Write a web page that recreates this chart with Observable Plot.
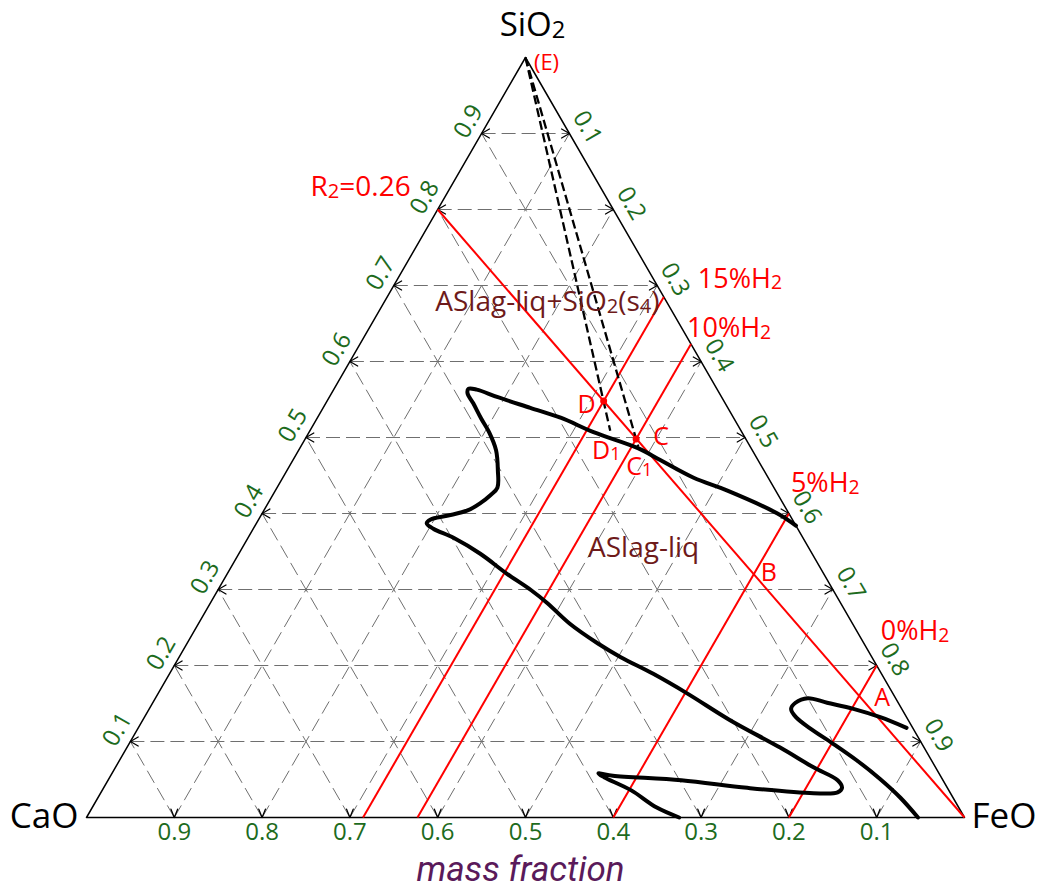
<!DOCTYPE html>
<html>
<head>
<meta charset="utf-8">
<script src="https://cdn.jsdelivr.net/npm/d3@7"></script>
<script src="https://cdn.jsdelivr.net/npm/@observablehq/plot@0.6"></script>
<style>
  html, body { margin: 0; padding: 0; background: #fff; }
  #chart { width: 1041px; }
  #chart svg { display: block; }
  #title { width: 1041px; height: 41px; line-height: 41px; text-align: center;
    font-family: Roboto, 'Open Sans', sans-serif; font-style: italic; font-size: 35px;
    color: #5a1a5a; white-space: nowrap; }
</style>
</head>
<body>
<div id="chart"></div>
<div id="title"></div>
<script>
// ---------- data (mass fractions) ----------
const gridValues = [0.1, 0.2, 0.3, 0.4, 0.5, 0.6, 0.7, 0.8, 0.9];
const tickLabels = ["0.1", "0.2", "0.3", "0.4", "0.5", "0.6", "0.7", "0.8", "0.9"];
const cornerLabels = ["CaO", "FeO", "SiO₂"];

// upper/left liquidus boundary (SiO2, FeO mass fractions)
const boundary1SiO2 = [0.384, 0.400, 0.430, 0.447, 0.470, 0.486, 0.507, 0.526, 0.539, 0.553, 0.563, 0.564, 0.558, 0.545, 0.525, 0.507, 0.483, 0.457, 0.434, 0.424, 0.414, 0.404, 0.397, 0.392, 0.387, 0.380, 0.368, 0.347, 0.321, 0.299, 0.282, 0.255, 0.229, 0.211, 0.189, 0.163, 0.128, 0.092, 0.066, 0.049, 0.039, 0.033, 0.032, 0.039, 0.049, 0.055, 0.058, 0.053, 0.036, 0.013, 0.000];
const boundary1FeO  = [0.616, 0.587, 0.515, 0.468, 0.419, 0.385, 0.324, 0.277, 0.236, 0.192, 0.163, 0.153, 0.155, 0.168, 0.187, 0.205, 0.225, 0.240, 0.251, 0.248, 0.242, 0.232, 0.212, 0.196, 0.194, 0.205, 0.234, 0.275, 0.318, 0.357, 0.384, 0.423, 0.468, 0.503, 0.551, 0.603, 0.669, 0.744, 0.795, 0.831, 0.841, 0.839, 0.812, 0.733, 0.653, 0.572, 0.554, 0.563, 0.602, 0.643, 0.675];
// FeO-rich boundary near A
const boundary2SiO2 = [0.118, 0.132, 0.143, 0.151, 0.157, 0.151, 0.143, 0.132, 0.117, 0.097, 0.075, 0.051, 0.026, 0.000];
const boundary2FeO  = [0.875, 0.838, 0.802, 0.768, 0.743, 0.732, 0.731, 0.742, 0.766, 0.802, 0.840, 0.878, 0.914, 0.947];

// constant-FeO lines for H2 content
const h2Labels = ["0%H₂", "5%H₂", "10%H₂", "15%H₂"];
const h2FeO = [0.8, 0.6, 0.377, 0.315];

// basicity line R2 = 0.26 : from (SiO2 0.8, CaO 0.2) to FeO corner
const r2Label = "R₂=0.26";
const r2StartSiO2 = 0.8;

// marked points
const pointNames = ["D", "C", "D₁", "C₁", "A", "B", "(E)"];
const pointSiO2 = [0.548, 0.498, 0.509, 0.488, 0.160, 0.320, 1.0];
const pointFeO  = [0.315, 0.377, 0.342, 0.3845, 0.800, 0.600, 0.0];

// phase field labels
const regionLabels = ["ASlag-liq+SiO₂(s₄)", "ASlag-liq"];
const regionSiO2 = [0.678, 0.355];
const regionFeO  = [0.186, 0.457];

const axisTitle = "mass fraction";

// ---------- helpers ----------
const SQ = Math.sqrt(3) / 2;
const tx = (S, F) => F + S / 2;
const ty = (S) => S * SQ;
const pt = (S, F) => ({x: tx(S, F), y: ty(S)});

// grid segments
const grid = [];
for (const v of gridValues) {
  grid.push({a: pt(v, 0), b: pt(v, 1 - v)});        // constant SiO2
  grid.push({a: pt(0, v), b: pt(1 - v, v)});        // constant FeO
  grid.push({a: pt(0, 1 - v), b: pt(1 - v, 0)});    // constant CaO
}

// arrow-head ticks
const L = 9 / 878;
const ticks = [];
gridValues.forEach((v, i) => {
  const l = pt(v, 0), r = pt(v, 1 - v), b = pt(0, 1 - v);
  const c30 = Math.cos(Math.PI / 6) * L, s30 = Math.sin(Math.PI / 6) * L;
  ticks.push({id: "l" + i, p: [{x: l.x + c30, y: l.y + s30}, l, {x: l.x + c30, y: l.y - s30}]});
  ticks.push({id: "r" + i, p: [{x: r.x - c30, y: r.y + s30}, r, {x: r.x - c30, y: r.y - s30}]});
  const s22 = Math.sin(0.38) * L, c22 = Math.cos(0.38) * L;
  ticks.push({id: "b" + i, p: [{x: b.x - s22, y: b.y + c22}, b, {x: b.x + s22, y: b.y + c22}]});
});
const tickPts = ticks.flatMap(t => t.p.map(p => ({...p, id: t.id})));

const tri = [pt(0, 0), pt(0, 1), pt(1, 0), pt(0, 0)];

const b1 = boundary1SiO2.map((s, i) => pt(s, boundary1FeO[i]));
const b2 = boundary2SiO2.map((s, i) => pt(s, boundary2FeO[i]));

const h2Lines = h2FeO.map((f, i) => ({a: pt(0, f), b: pt(1 - f, f), label: h2Labels[i]}));
const r2Line = [{a: pt(r2StartSiO2, 0), b: pt(0, 1)}];

const P = pointNames.map((n, i) => ({name: n, ...pt(pointSiO2[i], pointFeO[i])}));
const byName = n => P.find(p => p.name === n);
const dashed = [
  {a: byName("(E)"), b: byName("D₁")},
  {a: byName("(E)"), b: byName("C₁")}
];

const leftTicks = gridValues.map((v, i) => ({...pt(v, 0), t: tickLabels[i]}));
const rightTicks = gridValues.map((v, i) => ({...pt(1 - v, v), t: tickLabels[i]}));
const bottomTicks = gridValues.map((v, i) => ({...pt(0, 1 - v), t: tickLabels[i]}));

const regions = regionLabels.map((t, i) => ({t, ...pt(regionSiO2[i], regionFeO[i])}));

const FONT = "'Open Sans', 'Noto Sans', sans-serif";
const GREEN = "#1d6b1d";
const RED = "#ff0000";
const TICKFS = 24;

const txt = (data, opts) => Plot.text(data, {x: "x", y: "y", fontFamily: FONT, ...opts});
const one = (name, text, opts) => txt([byName(name)], {text: () => text, ...opts});

const chart = Plot.plot({
  width: 1041,
  height: 849,
  margin: 0,
  x: {domain: [0, 1], range: [86, 964], axis: null},
  y: {domain: [0, SQ], range: [817, 57], axis: null},
  marks: [
    Plot.link(grid, {x1: d => d.a.x, y1: d => d.a.y, x2: d => d.b.x, y2: d => d.b.y,
      stroke: "#6f6f6f", strokeWidth: 1, strokeDasharray: "14,6"}),
    Plot.line(tickPts, {x: "x", y: "y", z: "id", stroke: "#000", strokeWidth: 1.3}),
    Plot.line(tri, {x: "x", y: "y", stroke: "#000", strokeWidth: 1.5}),
    Plot.link(h2Lines, {x1: d => d.a.x, y1: d => d.a.y, x2: d => d.b.x, y2: d => d.b.y, stroke: RED, strokeWidth: 2}),
    Plot.link(r2Line, {x1: d => d.a.x, y1: d => d.a.y, x2: d => d.b.x, y2: d => d.b.y, stroke: RED, strokeWidth: 2}),
    Plot.line(b1, {x: "x", y: "y", curve: "catmull-rom", stroke: "#000", strokeWidth: 4, strokeLinejoin: "round"}),
    Plot.line(b2, {x: "x", y: "y", curve: "catmull-rom", stroke: "#000", strokeWidth: 4, strokeLinejoin: "round"}),
    Plot.link(dashed, {x1: d => d.a.x, y1: d => d.a.y, x2: d => d.b.x, y2: d => d.b.y,
      stroke: "#000", strokeWidth: 2.3, strokeDasharray: "9,4"}),
    Plot.dot([byName("D"), byName("C")], {x: "x", y: "y", r: 3.5, fill: RED}),

    // tick labels
    txt(leftTicks, {text: "t", rotate: -60, dx: -13, dy: -12, fontSize: TICKFS, fill: GREEN}),
    txt(rightTicks, {text: "t", rotate: 60, dx: 18, dy: -6, fontSize: TICKFS, fill: GREEN}),
    txt(bottomTicks, {text: "t", dy: 15, fontSize: TICKFS, fill: GREEN}),

    // corner labels
    txt([pt(0, 0)], {text: () => cornerLabels[0], textAnchor: "end", dx: -8, dy: -1, fontSize: 35, fill: "#000"}),
    txt([pt(0, 1)], {text: () => cornerLabels[1], textAnchor: "start", dx: 7, dy: -1, fontSize: 35, fill: "#000"}),
    txt([pt(1, 0)], {text: () => cornerLabels[2], dx: 7, dy: -32, fontSize: 33, fill: "#000"}),

    // point labels
    one("(E)", "(E)", {dx: 21, dy: 5, fontSize: 22, fill: RED}),
    one("D", "D", {dx: -17, dy: 4, fontSize: 25, fill: RED}),
    one("C", "C", {dx: 25, dy: -2, fontSize: 25, fill: RED}),
    one("D₁", "D₁", {dx: -4, dy: 20, fontSize: 25, fill: RED}),
    one("C₁", "C₁", {dx: 1, dy: 20, fontSize: 25, fill: RED}),
    one("A", "A", {dx: 23, dy: 2, fontSize: 25, fill: RED}),
    one("B", "B", {dx: 15, dy: -1, fontSize: 25, fill: RED}),

    // H2 and R2 labels
    txt([h2Lines[0].b], {text: () => h2Labels[0], textAnchor: "start", dx: 4, dy: -34, fontSize: 27, fill: RED}),
    txt([h2Lines[1].b], {text: () => h2Labels[1], textAnchor: "start", dx: 2, dy: -30, fontSize: 27, fill: RED}),
    txt([h2Lines[2].b], {text: () => h2Labels[2], textAnchor: "start", dx: -4, dy: -16, fontSize: 27, fill: RED}),
    txt([h2Lines[3].b], {text: () => h2Labels[3], textAnchor: "start", dx: 34, dy: -18, fontSize: 27, fill: RED}),
    txt([r2Line[0].a], {text: () => r2Label, textAnchor: "end", dx: -27, dy: -22, fontSize: 28, fill: RED}),

    // region labels
    txt(regions, {text: "t", fontSize: 28, fill: "#6e1a1a"})
  ]
});

// render unicode subscript digits as smaller, lowered real digits
const SUB = /[\u2080-\u2089]/;
chart.querySelectorAll("text").forEach(t => {
  const s = t.textContent;
  if (!SUB.test(s) || t.querySelector("tspan")) return;
  t.textContent = "";
  const ns = "http://www.w3.org/2000/svg";
  let buf = "", lowered = false;
  const flush = (sub) => {
    if (!buf) return;
    const sp = document.createElementNS(ns, "tspan");
    if (sub) { sp.setAttribute("font-size", "72%"); }
    sp.textContent = buf;
    t.appendChild(sp);
    buf = "";
  };
  for (const ch of s) {
    const isSub = SUB.test(ch);
    if (isSub !== lowered) {
      flush(lowered);
      lowered = isSub;
    }
    buf += isSub ? String.fromCharCode(ch.charCodeAt(0) - 0x2080 + 48) : ch;
  }
  flush(lowered);
  const spans = t.querySelectorAll("tspan");
  spans.forEach((sp, i) => {
    if (sp.getAttribute("font-size")) {
      sp.setAttribute("dy", "0.1em");
      const next = spans[i + 1];
      if (next) next.setAttribute("dy", "-0.072em");
    }
  });
});

document.getElementById("chart").appendChild(chart);
document.getElementById("title").textContent = axisTitle;
</script>
</body>
</html>
